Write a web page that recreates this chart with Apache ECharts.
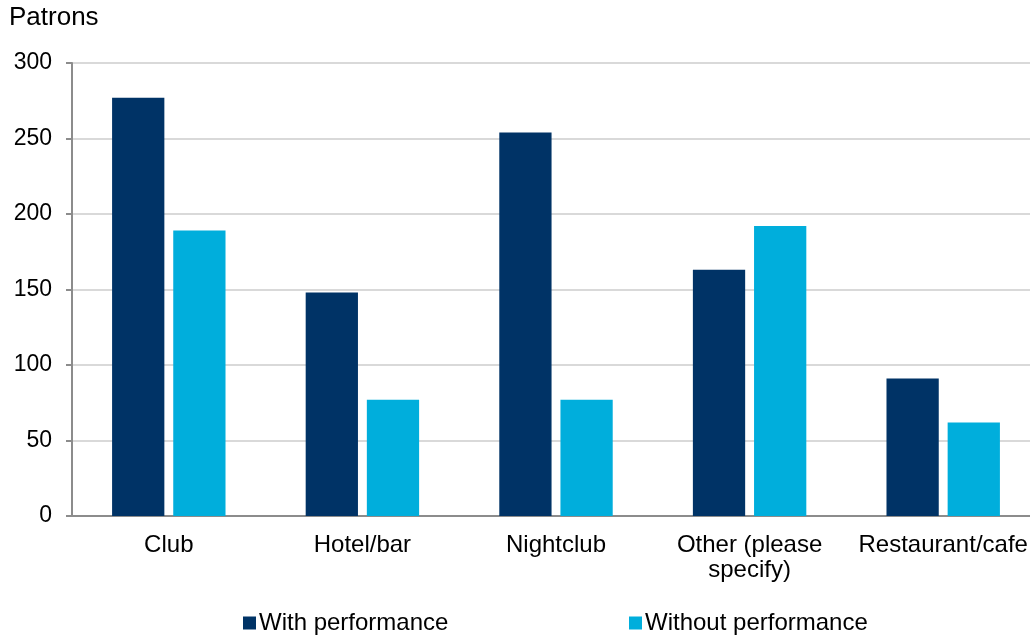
<!DOCTYPE html>
<html>
<head>
<meta charset="utf-8">
<script src="https://cdn.jsdelivr.net/npm/echarts@6/dist/echarts.min.js"></script>
<style>
  html, body { margin: 0; padding: 0; background: #ffffff; }
  #chart { width: 1030px; height: 636px; }
</style>
</head>
<body>
<div id="chart"></div>
<script>
// Venue types and patron counts
const categories = ['Club', 'Hotel/bar', 'Nightclub', 'Other (please\nspecify)', 'Restaurant/cafe'];
const withPerformance = [277, 148, 254, 163, 91];
const withoutPerformance = [189, 77, 77, 192, 62];
const yTicks = { min: 0, max: 300, interval: 50 };
const axisName = 'Patrons';

const FONT = '"Liberation Sans", Arial, sans-serif';
const DARK = '#003366';
const LIGHT = '#00AEDC';

const chart = echarts.init(document.getElementById('chart'), null, { renderer: 'canvas' });

function legendAt(name, left) {
  return {
    data: [name],
    left: left,
    top: 606,
    padding: 5,
    itemWidth: 13,
    itemHeight: 13,
    itemGap: 4,
    icon: 'rect',
    textStyle: { fontFamily: FONT, fontSize: 24, color: '#000000', padding: [0, 0, 0, -2] }
  };
}

chart.setOption({
  animation: false,
  backgroundColor: '#ffffff',
  textStyle: { fontFamily: FONT, color: '#000000' },
  title: {
    text: axisName,
    left: 4,
    top: 0,
    textStyle: { fontFamily: FONT, fontSize: 26, fontWeight: 'normal', color: '#000000' }
  },
  // the plot runs slightly past the right edge of the canvas
  grid: {
    left: 72, top: 63, width: 968, bottom: 120,
    containLabel: false,
    outerBoundsMode: 'none'
  },
  legend: [
    legendAt('With performance', 238),
    legendAt('Without performance', 624)
  ],
  xAxis: {
    type: 'category',
    data: categories,
    axisLine: { show: true, lineStyle: { color: '#8c8c8c', width: 2 } },
    axisTick: { show: false },
    axisLabel: {
      margin: 17,
      fontFamily: FONT,
      fontSize: 24,
      color: '#000000',
      lineHeight: 25,
      interval: 0
    },
    splitLine: { show: false }
  },
  yAxis: {
    type: 'value',
    min: yTicks.min,
    max: yTicks.max,
    interval: yTicks.interval,
    axisLine: { show: true, lineStyle: { color: '#8c8c8c', width: 2 } },
    axisTick: { show: true, inside: false, length: 6, lineStyle: { color: '#8c8c8c', width: 2 } },
    axisLabel: { margin: 20, fontFamily: FONT, fontSize: 23, color: '#000000' },
    splitLine: { show: true, lineStyle: { color: '#d9d9d9', width: 2 } }
  },
  series: [
    {
      name: 'With performance',
      type: 'bar',
      data: withPerformance,
      barWidth: '27%',
      barGap: '17%',
      itemStyle: { color: DARK }
    },
    {
      name: 'Without performance',
      type: 'bar',
      data: withoutPerformance,
      barWidth: '27%',
      barGap: '17%',
      itemStyle: { color: LIGHT }
    }
  ]
});
</script>
</body>
</html>
